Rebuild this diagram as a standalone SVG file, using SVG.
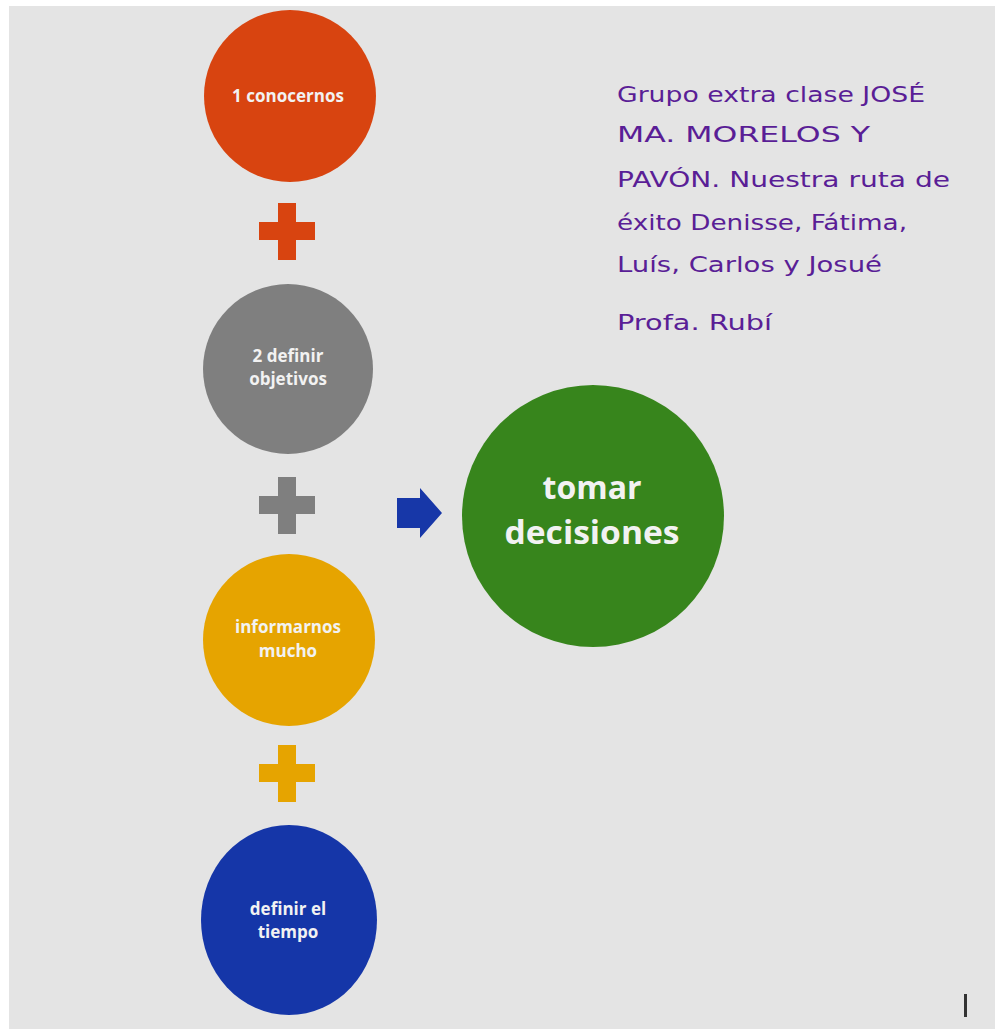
<svg xmlns="http://www.w3.org/2000/svg" width="995" height="1029" viewBox="0 0 995 1029">
  <defs>
    <style>
      .lbl { font-family: "Open Sans", "Liberation Sans", sans-serif; font-weight: 700; fill: #F2F2F2; text-anchor: middle; }
      .sm { font-size: 17px; }
      .big { font-size: 32px; }
      .note { font-family: "DejaVu Sans", "Liberation Sans", sans-serif; font-size: 22px; fill: #5A1E96; }
    </style>
    <path id="plus" d="M-9,-28 H9 V-9 H28 V9 H9 V29 H-9 V9 H-28 V-9 H-9 Z"/>
  </defs>

  <!-- page -->
  <rect x="0" y="0" width="995" height="1029" fill="#FFFFFF"/>
  <rect x="9" y="6" width="986" height="1023" fill="#E4E4E4"/>

  <!-- connectors: plus signs and arrow -->
  <g id="connectors">
    <use href="#plus" x="287" y="231" fill="#D84410"/>
    <use href="#plus" x="287" y="505" fill="#7F7F7F"/>
    <use href="#plus" x="287" y="773" fill="#E6A400"/>
    <path d="M397,498 H420 V488 L442,513 L420,538 V528 H397 Z" fill="#1737A8"/>
  </g>

  <g id="node-conocernos">
    <circle cx="290" cy="96" r="86" fill="#D84410"/>
    <text class="lbl sm" x="288" y="102">1 conocernos</text>
  </g>

  <g id="node-objetivos">
    <circle cx="288" cy="369" r="85" fill="#7F7F7F"/>
    <text class="lbl sm" x="288" y="362">2 definir</text>
    <text class="lbl sm" x="288" y="385">objetivos</text>
  </g>

  <g id="node-informarnos">
    <circle cx="289" cy="640" r="86" fill="#E6A400"/>
    <text class="lbl sm" x="288" y="633">informarnos</text>
    <text class="lbl sm" x="288" y="657">mucho</text>
  </g>

  <g id="node-tiempo">
    <ellipse cx="289" cy="920" rx="88" ry="95" fill="#1536A8"/>
    <text class="lbl sm" x="288" y="915">definir el</text>
    <text class="lbl sm" x="288" y="938">tiempo</text>
  </g>

  <g id="node-decisiones">
    <circle cx="593" cy="516" r="131" fill="#37851C"/>
    <text class="lbl big" x="592" y="499">tomar</text>
    <text class="lbl big" x="592" y="544" textLength="175" lengthAdjust="spacingAndGlyphs">decisiones</text>
  </g>

  <!-- note block -->
  <g id="note">
    <text class="note" x="617" y="102" textLength="308" lengthAdjust="spacingAndGlyphs">Grupo extra clase JOSÉ</text>
    <text class="note" x="617" y="142" textLength="253" lengthAdjust="spacingAndGlyphs">MA. MORELOS Y</text>
    <text class="note" x="617" y="187" textLength="333" lengthAdjust="spacingAndGlyphs">PAVÓN. Nuestra ruta de</text>
    <text class="note" x="617" y="230" textLength="290" lengthAdjust="spacingAndGlyphs">éxito Denisse, Fátima,</text>
    <text class="note" x="617" y="272" textLength="265" lengthAdjust="spacingAndGlyphs">Luís, Carlos y Josué</text>
    <text class="note" x="617" y="330" textLength="155" lengthAdjust="spacingAndGlyphs">Profa. Rubí</text>
  </g>

  <!-- text cursor -->
  <rect x="964" y="994" width="3" height="23" fill="#333333"/>
</svg>
